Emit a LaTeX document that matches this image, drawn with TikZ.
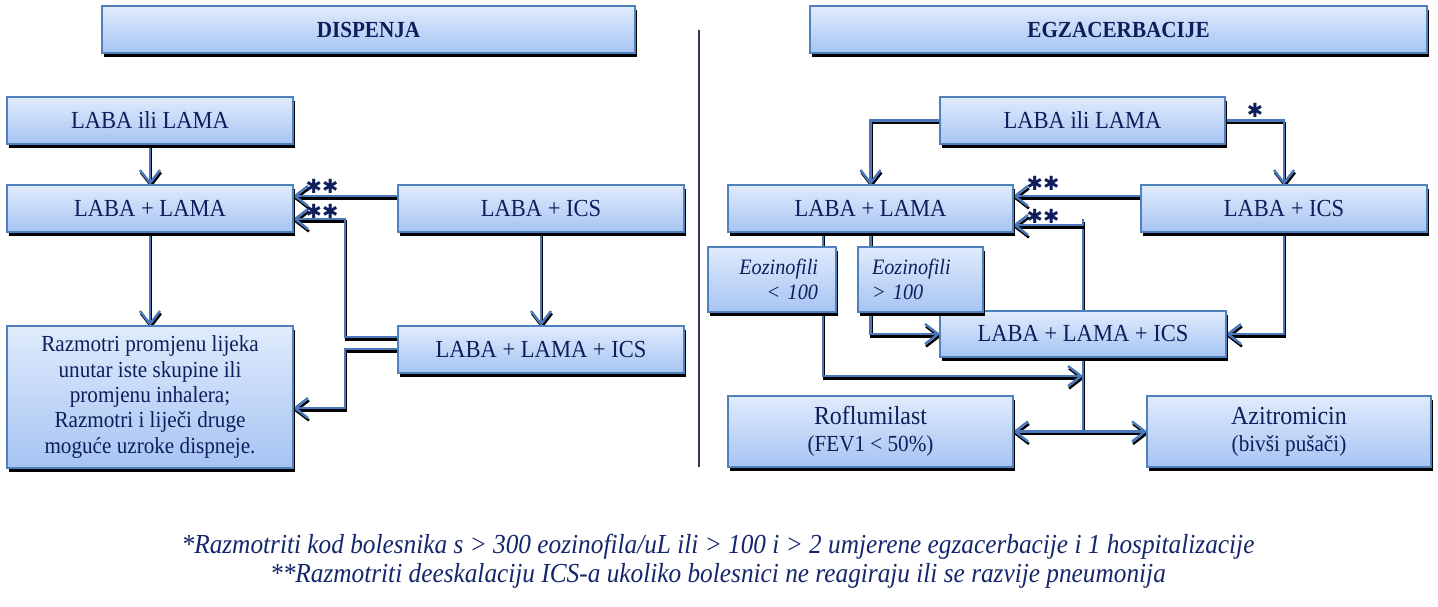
\documentclass[tikz,border=0pt]{standalone}
\usepackage{fontspec}
\setmainfont{Liberation Serif}[FakeStretch=0.92]
\newfontfamily\starfont{DejaVu Sans}
\usetikzlibrary{arrows.meta,shadows,calc}
\definecolor{navy}{RGB}{14,30,92}
\definecolor{footc}{RGB}{20,38,108}
\definecolor{bord}{RGB}{79,129,189}
\definecolor{topc}{RGB}{224,235,252}
\definecolor{botc}{RGB}{166,196,243}
\definecolor{lineb}{RGB}{74,120,186}
\definecolor{divc}{RGB}{45,58,85}
\pgfdeclarelayer{bg}
\pgfsetlayers{bg,main}
\tikzset{
  box/.style={draw=bord, line width=1.5pt, top color=topc, bottom color=botc,
    drop shadow={shadow xshift=1.5pt, shadow yshift=-4pt, fill=black, opacity=1},
    anchor=north west, inner sep=0pt, outer sep=0pt, text=navy, align=center,
    font=\fontsize{24.5}{28}\selectfont},
  hbox/.style={box, font=\bfseries\fontsize{23}{26}\selectfont},
  sbox/.style={box, font=\fontsize{23}{25.3}\selectfont},
  ebox/.style={box, font=\itshape\fontsize{22}{24.5}\selectfont},
  bigbox/.style={box, font=\fontsize{26}{28}\selectfont},
  conn/.style={draw=lineb, line width=2.4pt,
    preaction={draw=black, line width=2.4pt, transform canvas={shift={(1pt,-2.5pt)}}}},
  arr/.style={conn, -{Straight Barb[length=13pt,width=20pt]}},
  stars/.style={text=navy, font=\starfont\fontsize{19.5}{19.5}\selectfont, inner sep=0pt},
  foot/.style={text=footc, font=\itshape\fontsize{27.5}{29}\selectfont, inner sep=0pt}
}
\begin{document}
\begin{tikzpicture}[x=1pt,y=-1pt]
\useasboundingbox (0,0) rectangle (1438,607);
\begin{pgfonlayer}{bg}
\fill[white] (0,0) rectangle (1438,607);
\end{pgfonlayer}

% headers
\node[hbox, minimum width=533pt, minimum height=47pt] (H1) at (102,6) {DISPENJA};
\node[hbox, minimum width=617pt, minimum height=47pt] (H2) at (810,6) {EGZACERBACIJE};

% divider
\draw[divc, line width=1.6pt] (699,30) -- (699,467);

% left column
\node[box, minimum width=286pt, minimum height=47pt] (L1) at (7,97) {LABA ili LAMA};
\node[box, minimum width=286pt, minimum height=47pt] (L2) at (7,185) {LABA + LAMA};
\node[box, minimum width=286pt, minimum height=47pt] (L3) at (398,185) {LABA + ICS};
\node[box, minimum width=286pt, minimum height=47pt] (L4) at (398,326) {LABA + LAMA + ICS};
\node[sbox, minimum width=286pt, minimum height=142pt] (L5) at (7,326)
  {Razmotri promjenu lijeka\\unutar iste skupine ili\\promjenu inhalera;\\Razmotri i liječi druge\\moguće uzroke dispneje.};

% right column
\node[box, minimum width=285pt, minimum height=47pt] (R1) at (940,97) {LABA ili LAMA};
\node[box, minimum width=285pt, minimum height=47pt] (R2) at (728,185) {LABA + LAMA};
\node[box, minimum width=286pt, minimum height=47pt] (R3) at (1141,185) {LABA + ICS};
\node[box, minimum width=286pt, minimum height=46pt] (R4) at (940,311) {LABA + LAMA + ICS};
\node[ebox, minimum width=128pt, minimum height=65pt, text width=92pt, align=right] (E1) at (708,247) {Eozinofili\\< 100};
\node[ebox, minimum width=125pt, minimum height=65pt, text width=97pt, align=left] (E2) at (858,247) {Eozinofili\\> 100};
\node[bigbox, minimum width=285pt, minimum height=71pt] (R5) at (728,396)
  {Roflumilast\\[-1pt]{\fontsize{23}{25}\selectfont (FEV1 < 50\%)}};
\node[bigbox, minimum width=284pt, minimum height=71pt] (R6) at (1147,396)
  {Azitromicin\\[-1pt]{\fontsize{23}{25}\selectfont (bivši pušači)}};

\coordinate (J) at (R4.south |- 0,376);

\begin{pgfonlayer}{bg}
% left connectors
\draw[arr] (L1.south) -- (L2.north);
\draw[arr] (L2.south) -- (L5.north);
\draw[arr] (L3.south) -- (L4.north);
\draw[arr] (L3.west |- 0,196) -- (L2.east |- 0,196);
\draw[arr] (L4.west |- 0,337) -| (345,219) -- (L2.east |- 0,219);
\draw[arr] (L4.west |- 0,349) -| (345,408) -- (L5.east |- 0,408);
% right connectors
\draw[arr] (R1.west) -| (R2.north);
\draw[arr] (R1.east) -| (R3.north);
\draw[arr] (R3.west |- 0,196) -- (R2.east |- 0,196);
\draw[conn] (R4.north) -- (R4.north |- 0,219);
\draw[arr] (R4.north |- 0,225) -- (R2.east |- 0,225);
\draw[arr] (R2.south) |- (R4.west);
\draw[arr] (R2.south -| 823,0) |- (J);
\draw[arr] (R3.south) |- (R4.east);
\draw[arr] (R4.south) |- (R5.east);
\draw[arr] (R4.south) |- (R6.west);
\end{pgfonlayer}

% asterisks
\node[stars] (s1) at (322,186) {✱✱};
\node[stars] (s2) at (322,211) {✱✱};
\node[stars] (s3) at (1043,183) {✱✱};
\node[stars] (s4) at (1043,216) {✱✱};
\node[stars] (s5) at (1255,110) {✱};

% footnotes
\node[foot] (f1) at (718,547) {*Razmotriti kod bolesnika s > 300 eozinofila/uL ili > 100 i > 2 umjerene egzacerbacije i 1 hospitalizacije};
\node[foot] (f2) at (718,576) {**Razmotriti deeskalaciju ICS-a ukoliko bolesnici ne reagiraju ili se razvije pneumonija};
\end{tikzpicture}
\end{document}
